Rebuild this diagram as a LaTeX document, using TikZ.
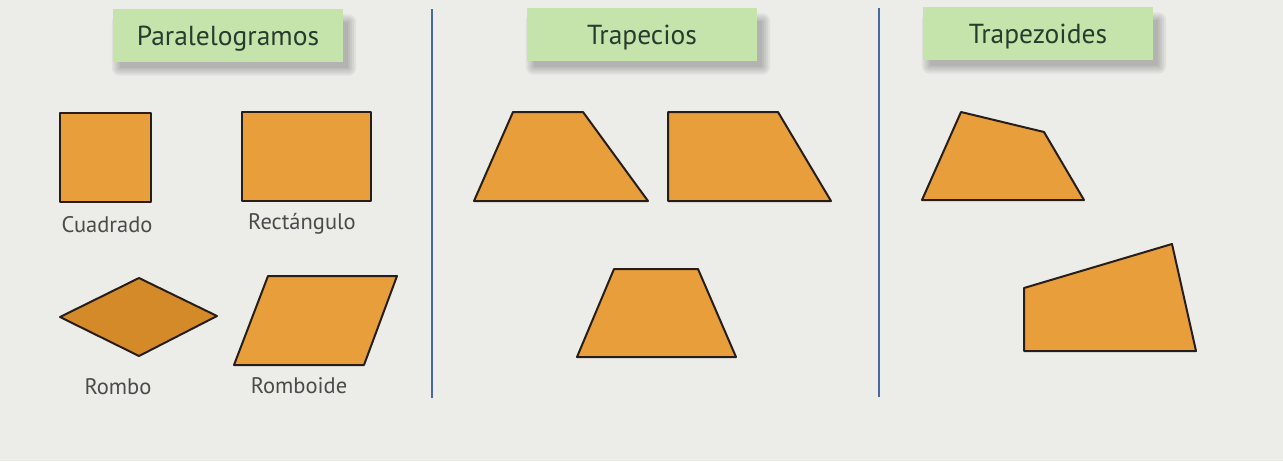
\documentclass[tikz,border=0pt]{standalone}
\usepackage{fontspec}
\setmainfont{PT Sans}
\usetikzlibrary{backgrounds}
\definecolor{bgcol}{RGB}{236,236,233}
\definecolor{boxgreen}{RGB}{197,228,172}
\definecolor{titlecol}{RGB}{40,60,45}
\definecolor{labelcol}{RGB}{75,75,75}
\definecolor{shapefill}{RGB}{232,158,58}
\definecolor{shapedark}{RGB}{212,138,40}
\definecolor{shapeline}{RGB}{40,30,25}
\definecolor{sepblue}{RGB}{70,105,165}
\tikzset{
  titlebox/.style={fill=boxgreen, inner sep=0pt, minimum width=230pt, minimum height=53pt,
    text=titlecol, font=\fontsize{27.5}{30}\selectfont, text height=20pt, text depth=0pt},
  lbl/.style={text=labelcol, font=\fontsize{22.5}{25}\selectfont, inner sep=0pt},
  polyshape/.style={fill=shapefill, draw=shapeline, line width=2pt, line join=round},
  darkshape/.style={polyshape, fill=shapedark},
  sepline/.style={draw=sepblue, line width=2pt},
  softshadow/.style={fill=black, opacity=0.05}
}
\newcommand{\boxshadow}[1]{%
  \begin{scope}[on background layer]
  \foreach \s in {0,2,...,8}{
    \fill[softshadow, rounded corners=\s pt]
      ([xshift=7pt-\s pt, yshift=-14pt+\s pt]#1.north west) rectangle
      ([xshift=5pt+\s pt, yshift=-6pt-\s pt]#1.south east);
  }
  \end{scope}}
\begin{document}
\begin{tikzpicture}[x=1pt,y=-1pt]
\begin{scope}[on background layer]
\fill[bgcol] (0,0) rectangle (1283,461);
\end{scope}
\useasboundingbox (0,0) rectangle (1283,461);
% separators
\coordinate (s1t) at (432,9); \coordinate (s1b) at (432,398);
\coordinate (s2t) at (879,8); \coordinate (s2b) at (879,397);
\draw[sepline] (s1t) -- (s1b);
\draw[sepline] (s2t) -- (s2b);
% titles
\node[titlebox] (tpar) at (228,35) {Paralelogramos};
\node[titlebox] (ttra) at (642,34) {Trapecios};
\node[titlebox] (ttrz) at (1038,33) {Trapezoides};
\boxshadow{tpar}
\boxshadow{ttra}
\boxshadow{ttrz}
% paralelogramos
\draw[polyshape] (60,113) rectangle (151,202);
\draw[polyshape] (242,112) rectangle (371,201);
\node[lbl] (lcua) at (107,225) {Cuadrado};
\node[lbl] (lrec) at (302,224) {Rectángulo};
\draw[darkshape] (60,317) -- (139,278) -- (217,316) -- (139,356) -- cycle;
\draw[polyshape] (268,276) -- (397,276) -- (364,365) -- (234,365) -- cycle;
\node[lbl] (lrom) at (118,387) {Rombo};
\node[lbl] (lrmd) at (299,386) {Romboide};
% trapecios
\draw[polyshape] (474,201) -- (513,112) -- (583,112) -- (648,201) -- cycle;
\draw[polyshape] (668,112) -- (778,112) -- (831,201) -- (668,201) -- cycle;
\draw[polyshape] (577,357) -- (614,269) -- (698,269) -- (736,357) -- cycle;
% trapezoides
\draw[polyshape] (961,112) -- (1044,132) -- (1084,200) -- (922,200) -- cycle;
\draw[polyshape] (1024,288) -- (1172,244) -- (1196,351) -- (1024,351) -- cycle;
\end{tikzpicture}
\end{document}
